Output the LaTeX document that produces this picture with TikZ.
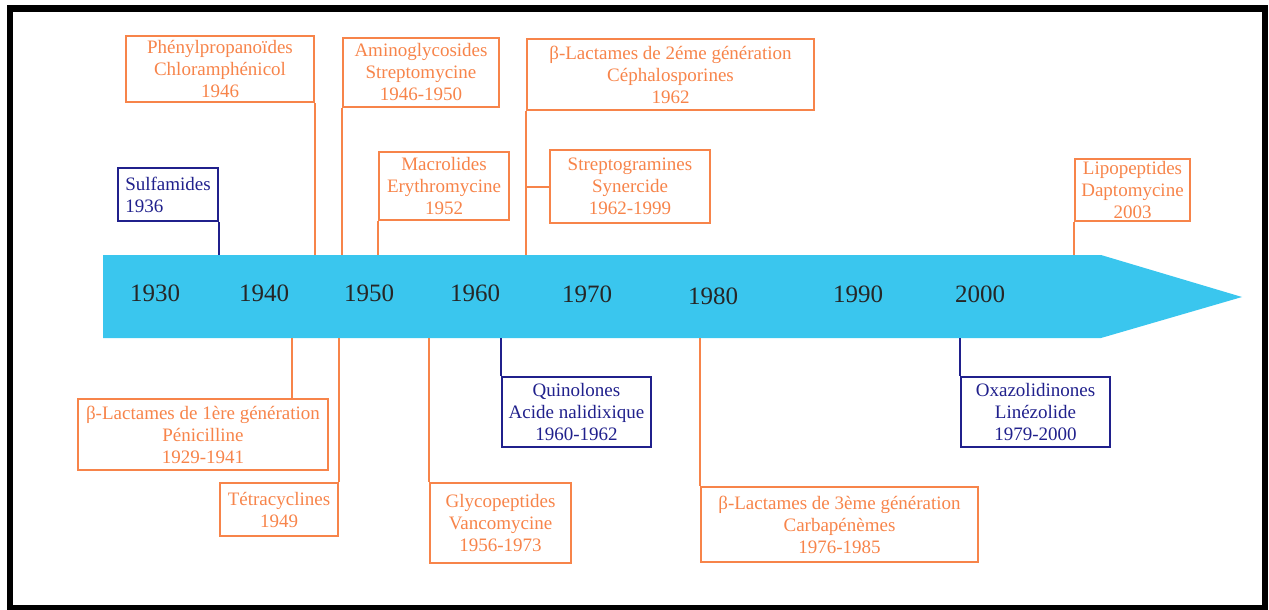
\documentclass[tikz,border=0pt]{standalone}
\usepackage{fontspec}
\setmainfont{Liberation Serif}
\usepackage{tikz}
\definecolor{myOrange}{RGB}{247,132,74}
\definecolor{myNavy}{RGB}{32,32,140}
\definecolor{myCyan}{RGB}{58,198,238}

\begin{document}
\begin{tikzpicture}[x=1pt, y=-1pt, inner sep=0pt]
            \useasboundingbox (0,0) rectangle (1269,610);

            \tikzstyle{myBox}=[draw, line width=2.5pt, align=center, font=\fontsize{19}{22}\selectfont];
            \tikzstyle{orBox}=[myBox, draw=myOrange, text=myOrange];
            \tikzstyle{nvBox}=[myBox, draw=myNavy, text=myNavy];
            \tikzstyle{myYear}=[font=\fontsize{25}{25}\selectfont, text=black!85];
            \tikzstyle{myStem}=[line width=2pt];

            \draw[line width=6.5pt] (10,8.5) rectangle (1265,608);
            \fill[myCyan] (103,255) -- (1101,255) -- (1242,297) -- (1101,338) -- (103,338) -- cycle;
            \coordinate (barTop) at (0,255);
            \coordinate (barBot) at (0,338);

            \node[myYear] (y1930) at (155,293) {1930};
            \node[myYear] (y1940) at (264,293) {1940};
            \node[myYear] (y1950) at (369,293) {1950};
            \node[myYear] (y1960) at (475,293) {1960};
            \node[myYear] (y1970) at (587,294) {1970};
            \node[myYear] (y1980) at (713,296) {1980};
            \node[myYear] (y1990) at (858,294) {1990};
            \node[myYear] (y2000) at (980,294) {2000};

            \node[nvBox, align=left, minimum width=100, minimum height=53] (sulf) at (168,194.5) {Sulfamides\\1936};
            \node[orBox, minimum width=188, minimum height=66] (phen) at (220,69) {Phénylpropanoïdes\\Chloramphénicol\\1946};
            \node[orBox, minimum width=156, minimum height=69] (amino) at (421,72.5) {Aminoglycosides\\Streptomycine\\1946-1950};
            \node[orBox, minimum width=130, minimum height=68] (macro) at (444,186) {Macrolides\\Erythromycine\\1952};
            \node[orBox, minimum width=287, minimum height=71] (beta2) at (670.5,74.5) {β-Lactames de 2éme génération\\Céphalosporines\\1962};
            \node[orBox, minimum width=160, minimum height=73] (strep) at (630,186.5) {Streptogramines\\Synercide\\1962-1999};
            \node[orBox, minimum width=115, minimum height=62] (lipo) at (1132.5,190) {Lipopeptides\\Daptomycine\\2003};

            \node[orBox, minimum width=250, minimum height=71] (peni) at (203,434.5) {β-Lactames de 1ère génération\\Pénicilline\\1929-1941};
            \node[orBox, minimum width=118, minimum height=53] (tetra) at (279,509.5) {Tétracyclines\\1949};
            \node[orBox, minimum width=141, minimum height=80] (glyco) at (500.5,523) {Glycopeptides\\Vancomycine\\1956-1973};
            \node[nvBox, minimum width=149, minimum height=70] (quino) at (576.5,412) {Quinolones\\Acide nalidixique\\1960-1962};
            \node[orBox, minimum width=277, minimum height=75] (beta3) at (839.5,524.5) {β-Lactames de 3ème génération\\Carbapénèmes\\1976-1985};
            \node[nvBox, minimum width=149, minimum height=70] (oxa) at (1035.5,412) {Oxazolidinones\\Linézolide\\1979-2000};

            \draw[myStem, myNavy] (sulf.south east) -- (sulf.south east |- barTop);
            \draw[myStem, myOrange] (phen.south east) -- (phen.south east |- barTop);
            \draw[myStem, myOrange] (amino.south west) -- (amino.south west |- barTop);
            \draw[myStem, myOrange] (macro.south west) -- (macro.south west |- barTop);
            \draw[myStem, myOrange] (beta2.south west) -- (beta2.south west |- barTop);
            \draw[myStem, myOrange] (strep.west) -- (strep.west -| beta2.south west);
            \draw[myStem, myOrange] (lipo.south west) -- (lipo.south west |- barTop);

            \draw[myStem, myOrange] ([xshift=-37pt]peni.north east) -- ([xshift=-37pt]peni.north east |- barBot);
            \draw[myStem, myOrange] (tetra.north east) -- (tetra.north east |- barBot);
            \draw[myStem, myOrange] (glyco.north west) -- (glyco.north west |- barBot);
            \draw[myStem, myNavy] (quino.north west) -- (quino.north west |- barBot);
            \draw[myStem, myOrange] (beta3.north west) -- (beta3.north west |- barBot);
            \draw[myStem, myNavy] (oxa.north west) -- (oxa.north west |- barBot);
\end{tikzpicture}
\end{document}
